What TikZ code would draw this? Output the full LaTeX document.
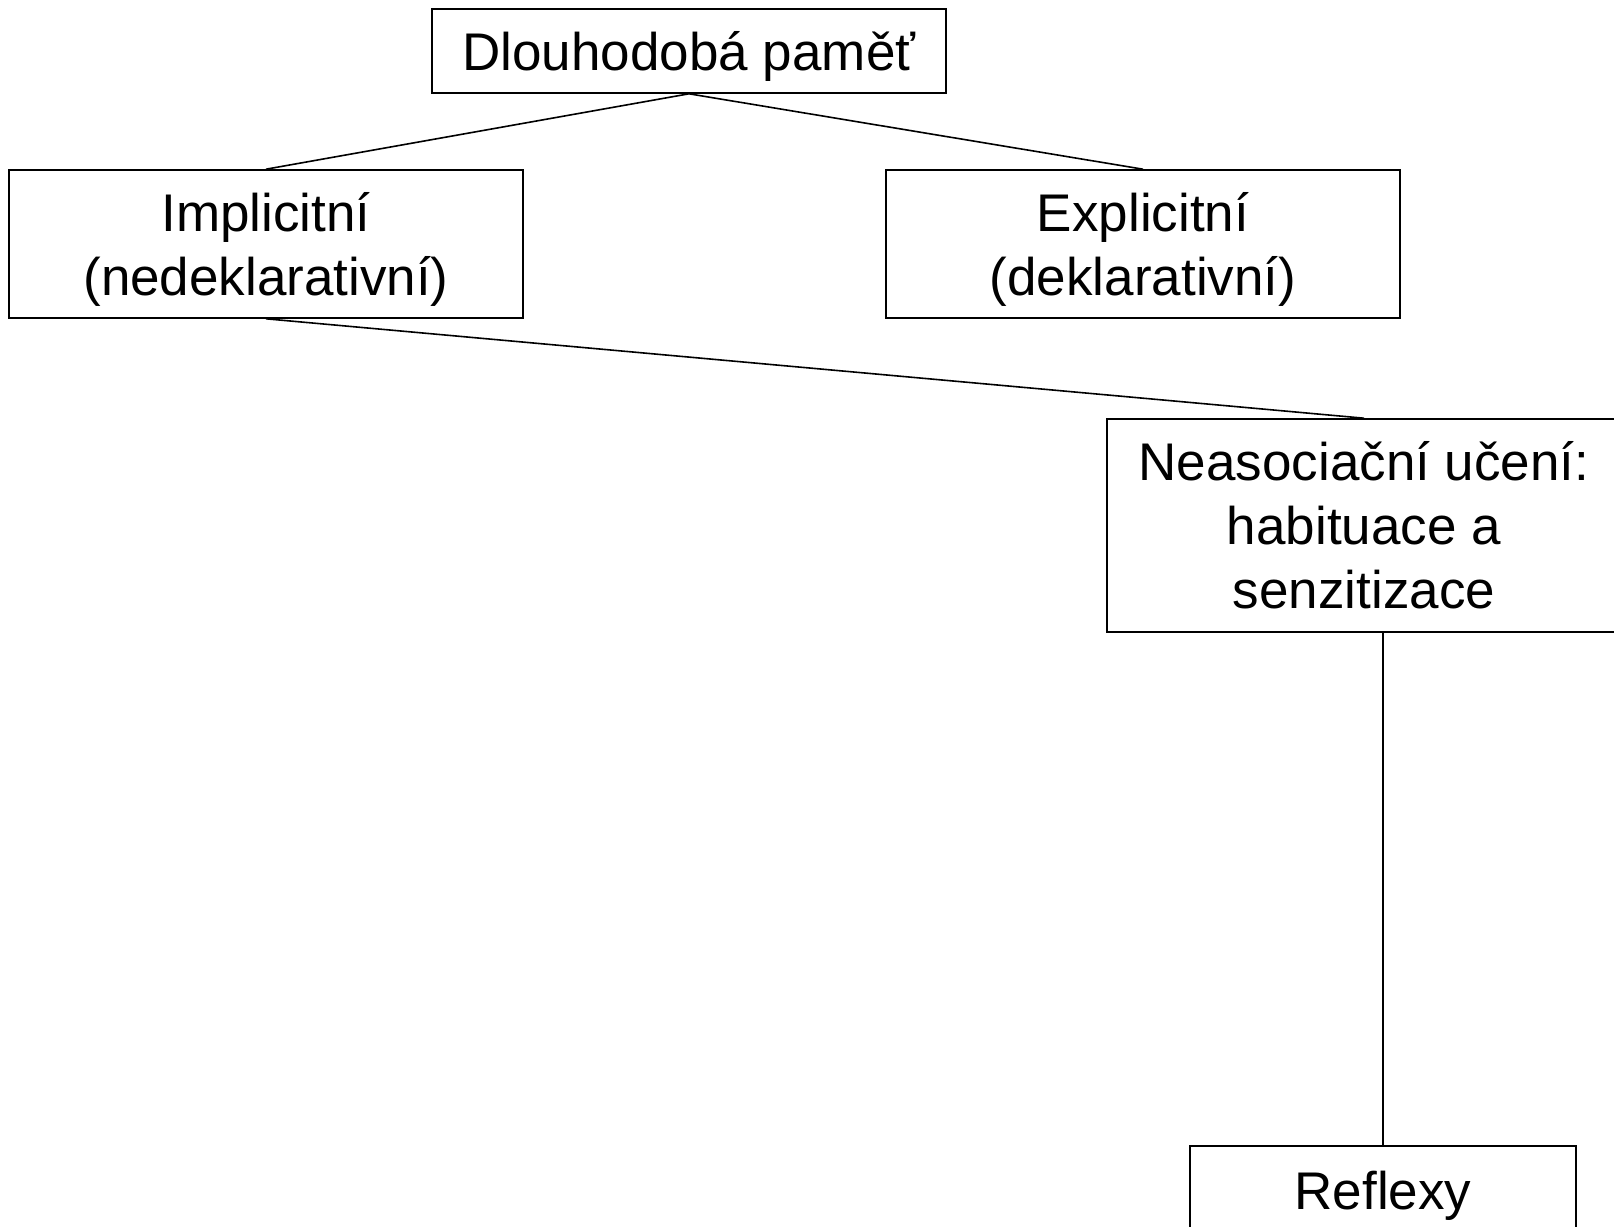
\documentclass[tikz,border=0pt]{standalone}
\usepackage{fontspec}
\setmainfont{Liberation Sans}
\begin{document}
\begin{tikzpicture}[x=1pt,y=-1pt,
  box/.style={draw, line width=1.6pt, align=center, inner sep=0pt,
    font=\fontsize{53}{64}\selectfont},
  link/.style={line width=1.6pt}]
\useasboundingbox (0,0) rectangle (1614,1226);
\clip (0,0) rectangle (1614,1226);

\node[box, text depth=0pt, minimum width=514, minimum height=84] (dp) at (689,51) {Dlouhodobá paměť};
\node[box, text depth=0pt, minimum width=514, minimum height=148] (impl) at (266,244) {Implicitní\\(nedeklarativní)};
\node[box, text depth=0pt, minimum width=514, minimum height=148] (expl) at (1143,244) {Explicitní\\(deklarativní)};
\node[box, minimum width=514, minimum height=213] (neas) at (1364,525.5) {Neasociační učení:\\habituace a\\senzitizace};
\node[box, minimum width=386, minimum height=100] (refl) at (1383,1196) {Reflexy};

\draw[link] (dp.south) -- (impl.north);
\draw[link] (dp.south) -- (expl.north);
\draw[link] (impl.south) -- (neas.north);
\draw[link] (neas.south -| refl.north) -- (refl.north);
\end{tikzpicture}
\end{document}
